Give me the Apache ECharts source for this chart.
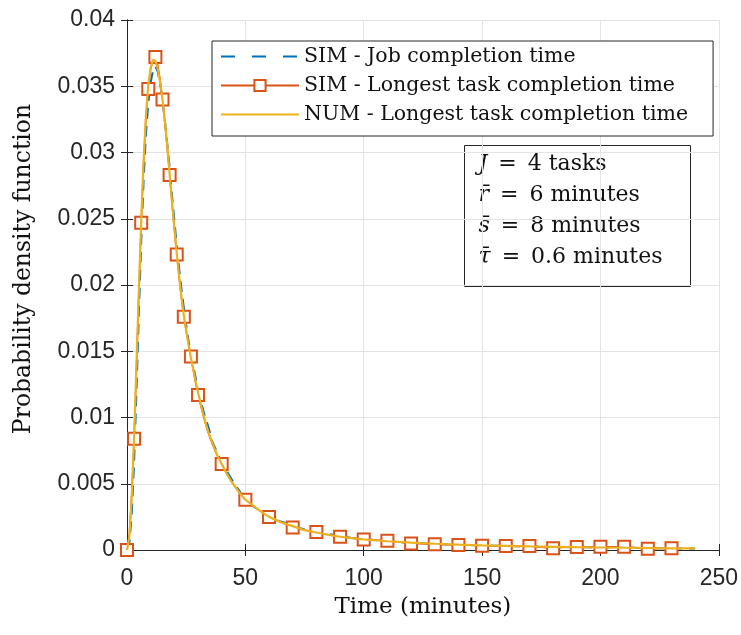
<!DOCTYPE html>
<html>
<head>
<meta charset="utf-8">
<script src="https://cdn.jsdelivr.net/npm/echarts@6/dist/echarts.min.js"></script>
<style>
html,body{margin:0;padding:0;background:#fff;}
#chart{width:741px;height:635px;}
</style>
</head>
<body>
<div id="chart"></div>
<script>
// ---- data ----
const seriesNames = ['SIM - Job completion time', 'SIM - Longest task completion time', 'NUM - Longest task completion time'];
const xTicks = [0, 50, 100, 150, 200, 250];
const yTicks = [0, 0.005, 0.01, 0.015, 0.02, 0.025, 0.03, 0.035, 0.04];
const xTitle = 'Time (minutes)';
const yTitle = 'Probability density function';

const simJobX = [0,1,2,3,4,5,6,7,8,9,10,11,12,13,14,15,16,17,18,19,20,21,22,23,24,25,26,27,28,29,30,31,32,33,34,35,36,37,38,39,40,41,42,43,44,45,46,47,48,49,50,52,54,56,58,60,62,64,66,68,70,72,74,76,78,80,85,90,95,100,105,110,115,120,125,130,135,140,145,150,155,160,165,170,175,180,185,190,195,200,205,210,215,220,225,230,235,240];
const simJobY = [0,0.0005,0.0027,0.0066,0.0120,0.0178,0.0232,0.0278,0.0314,0.0337,0.0353,0.0362,0.0365,0.0361,0.0352,0.0339,0.0324,0.0307,0.0289,0.0268,0.0249,0.0230,0.0213,0.0197,0.0183,0.0170,0.0158,0.0147,0.0139,0.0130,0.0121,0.0113,0.0107,0.0100,0.0095,0.0089,0.0082,0.0078,0.0074,0.0070,0.0066,0.0062,0.0060,0.0057,0.0054,0.0051,0.0048,0.0046,0.0043,0.0040,0.0038,0.0035,0.0032,0.0030,0.0027,0.0026,0.0024,0.0022,0.0021,0.0019,0.0018,0.0017,0.0016,0.0015,0.0014,0.00135,0.0012,0.00105,0.0009,0.00082,0.00075,0.00068,0.0006,0.00055,0.0005,0.00047,0.00043,0.0004,0.00038,0.00035,0.00033,0.00031,0.00029,0.00027,0.00026,0.00024,0.00022,0.00021,0.0002,0.00019,0.00018,0.00017,0.00016,0.00015,0.00014,0.00013,0.00012,0.00011];

const simTaskX = [0,1,2,3,4,5,6,7,8,9,10,11,12,13,14,15,16,17,18,19,20,21,22,23,24,25,26,27,28,29,30,32,34,36,38,40,42,44,46,48,50,55,60,65,70,75,80,85,90,95,100,105,110,115,120,125,130,135,140,145,150,155,160,165,170,175,180,185,190,195,200,205,210,215,220,225,230];
const simTaskY = [0,0.0012,0.0042,0.0084,0.0138,0.0194,0.0247,0.0292,0.0326,0.0348,0.0363,0.0370,0.0372,0.0366,0.0355,0.0340,0.0322,0.0303,0.0283,0.0262,0.0242,0.0223,0.0206,0.0190,0.0176,0.0165,0.0155,0.0146,0.0136,0.0126,0.0117,0.0103,0.0090,0.0080,0.0072,0.0065,0.0058,0.0052,0.0047,0.0042,0.0038,0.0031,0.0025,0.0021,0.0017,0.0015,0.00135,0.00115,0.0010,0.0009,0.0008,0.00075,0.0007,0.0006,0.0005,0.00047,0.00043,0.0004,0.00038,0.00035,0.00032,0.00031,0.0003,0.0003,0.0003,0.0002,0.00013,0.0002,0.00023,0.00024,0.00025,0.00025,0.00025,0.00018,0.0001,0.00012,0.00013];
const simTaskMarkerX = [0,3,6,9,12,15,18,21,24,27,30,40,50,60,70,80,90,100,110,120,130,140,150,160,170,180,190,200,210,220,230];

const numX = [0,1,2,3,4,5,6,7,8,9,10,11,12,13,14,15,16,17,18,19,20,21,22,23,24,25,26,27,28,29,30,32,34,36,38,40,42,44,46,48,50,55,60,65,70,75,80,85,90,95,100,110,120,130,140,150,160,170,180,190,200,210,220,230,240];
const numY = [0,0.0010,0.0040,0.0085,0.0140,0.0196,0.0248,0.0293,0.0328,0.0351,0.0364,0.0370,0.0369,0.0363,0.0353,0.0340,0.0324,0.0305,0.0284,0.0263,0.0243,0.0224,0.0207,0.0191,0.0177,0.0166,0.0155,0.0145,0.0136,0.0127,0.0119,0.0104,0.0091,0.0081,0.0072,0.0065,0.0058,0.0052,0.0047,0.0042,0.0038,0.0031,0.0025,0.0021,0.0018,0.0015,0.00132,0.00115,0.0010,0.0009,0.0008,0.00066,0.00055,0.00047,0.0004,0.00035,0.00031,0.00027,0.00024,0.00021,0.00019,0.00017,0.00015,0.00013,0.00012];

const annotationLines = [
  ['J', '\u2002=\u20024 tasks'],
  ['r\u0304', '\u2002=\u20026 minutes'],
  ['s\u0304', '\u2002=\u20028 minutes'],
  ['\u03C4\u0304', '\u2002=\u20020.6 minutes']
];

// ---- chart ----
const pair = (xs, ys) => xs.map((x, i) => [x, ys[i]]);
const axisColor = '#262626';
const serif = '"DejaVu Serif", serif';
const sans = '"Liberation Sans", Arial, sans-serif';

const chart = echarts.init(document.getElementById('chart'), null, {renderer: 'canvas'});

const baseX = {
  type: 'value', min: xTicks[0], max: xTicks[xTicks.length - 1], interval: 50,
  axisLine: {show: true, lineStyle: {color: axisColor, width: 1}},
  axisTick: {show: true, inside: true, length: 6, lineStyle: {color: axisColor}},
  splitLine: {show: false}
};
const baseY = {
  type: 'value', min: yTicks[0], max: yTicks[yTicks.length - 1], interval: 0.005,
  axisLine: {show: true, lineStyle: {color: axisColor, width: 1}},
  axisTick: {show: true, inside: true, length: 6, lineStyle: {color: axisColor}},
  splitLine: {show: false}
};

const richAnn = {
  v: {fontFamily: serif, fontStyle: 'italic', fontSize: 22, color: '#111', lineHeight: 31},
  t: {fontFamily: serif, fontSize: 22, color: '#111', lineHeight: 31}
};
const annText = annotationLines.map(l => '{v|' + l[0] + '}{t|' + l[1] + '}').join('\n');

const markerSet = new Set(simTaskMarkerX);
const simTaskData = simTaskX.map((x, i) => ({
  value: [x, simTaskY[i]],
  symbol: markerSet.has(x) ? 'emptyRect' : 'none'
}));

chart.setOption({
  animation: false,
  backgroundColor: '#fff',
  grid: {left: 127, right: 22, top: 20, bottom: 85, containLabel: false},
  xAxis: [
    Object.assign({}, baseX, {
      position: 'bottom',
      name: xTitle, nameLocation: 'middle', nameGap: 46,
      nameTextStyle: {fontFamily: serif, fontSize: 23, color: '#111'},
      axisLabel: {show: true, fontFamily: sans, fontSize: 23, color: axisColor, margin: 17},
      splitLine: {show: true, lineStyle: {color: '#e3e3e3', width: 1}}
    }),
    Object.assign({}, baseX, {position: 'top', axisLabel: {show: false}})
  ],
  yAxis: [
    Object.assign({}, baseY, {
      position: 'left',
      axisLabel: {show: true, fontFamily: sans, fontSize: 23, color: axisColor, margin: 12},
      splitLine: {show: true, lineStyle: {color: '#e3e3e3', width: 1}}
    }),
    Object.assign({}, baseY, {position: 'right', axisLabel: {show: false}})
  ],
  legend: {
    show: true, orient: 'vertical', left: 212, top: 41,
    backgroundColor: '#fff', borderColor: axisColor, borderWidth: 1,
    padding: [5, 25, 11, 8], itemGap: 8, itemWidth: 78, itemHeight: 14,
    textStyle: {fontFamily: serif, fontSize: 20.5, color: '#111', lineHeight: 21},
    data: [
      {name: seriesNames[0], itemStyle: {opacity: 0}, lineStyle: {type: [14, 17]}},
      {name: seriesNames[1]},
      {name: seriesNames[2], itemStyle: {opacity: 0}}
    ]
  },
  series: [
    {
      name: seriesNames[0], type: 'line', data: pair(simJobX, simJobY),
      showSymbol: false, symbol: 'none',
      lineStyle: {color: '#0072BD', width: 2, type: [11, 7]},
      itemStyle: {color: '#0072BD'}, z: 2
    },
    {
      name: seriesNames[1], type: 'line', data: simTaskData,
      symbol: 'emptyRect', symbolSize: 12, showAllSymbol: true,
      lineStyle: {color: '#D95319', width: 1.5},
      itemStyle: {color: '#D95319', borderColor: '#D95319', borderWidth: 2}, z: 3
    },
    {
      name: seriesNames[2], type: 'line', data: pair(numX, numY),
      showSymbol: false, symbol: 'none',
      lineStyle: {color: '#EDB120', width: 2.2},
      itemStyle: {color: '#EDB120'}, z: 4
    }
  ],
  graphic: [
    {
      type: 'text', x: 24, y: 269, rotation: Math.PI / 2, z: 100,
      style: {text: yTitle, fontFamily: serif, fontSize: 23.5, fill: '#111',
              align: 'center', verticalAlign: 'middle'}
    },
    {
      type: 'group', left: 464, top: 145, z: 100,
      children: [
        {type: 'rect', shape: {x: 0, y: 0, width: 226, height: 141},
         style: {fill: '#fff', stroke: axisColor, lineWidth: 1}},
        {type: 'text', x: 14, y: 3,
         style: {text: annText, rich: richAnn, fill: '#111'}}
      ]
    }
  ]
});
</script>
</body>
</html>
